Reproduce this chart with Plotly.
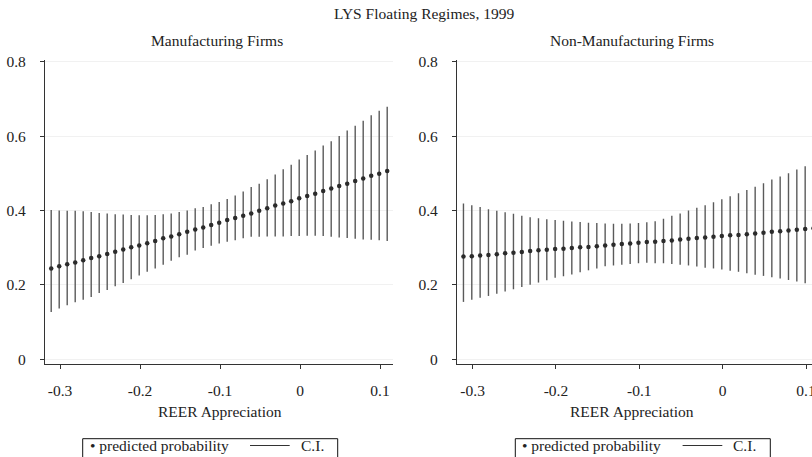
import plotly.graph_objects as go

# ---------------- data ----------------
x_vals = [-0.311, -0.301, -0.291, -0.281, -0.271, -0.261, -0.251, -0.241, -0.231, -0.221,
          -0.211, -0.201, -0.191, -0.181, -0.171, -0.161, -0.151, -0.141, -0.131, -0.121,
          -0.111, -0.101, -0.091, -0.081, -0.071, -0.061, -0.051, -0.041, -0.031, -0.021,
          -0.011, -0.001, 0.009, 0.019, 0.029, 0.039, 0.049, 0.059, 0.069, 0.079,
          0.089, 0.099, 0.109]

manuf_prob = [0.244, 0.250, 0.255, 0.260, 0.266, 0.272, 0.277, 0.283, 0.289, 0.295,
              0.301, 0.306, 0.312, 0.318, 0.325, 0.330, 0.336, 0.343, 0.349, 0.354,
              0.361, 0.367, 0.374, 0.380, 0.386, 0.392, 0.399, 0.406, 0.413, 0.419,
              0.425, 0.433, 0.439, 0.445, 0.452, 0.459, 0.466, 0.472, 0.479, 0.486,
              0.493, 0.499, 0.506]
manuf_hi = [0.401, 0.400, 0.399, 0.399, 0.398, 0.396, 0.393, 0.392, 0.390, 0.389,
            0.388, 0.387, 0.387, 0.388, 0.390, 0.392, 0.396, 0.400, 0.406, 0.409,
            0.417, 0.423, 0.431, 0.440, 0.451, 0.463, 0.472, 0.484, 0.497, 0.511,
            0.523, 0.537, 0.549, 0.561, 0.575, 0.586, 0.600, 0.615, 0.628, 0.641,
            0.656, 0.668, 0.679]
manuf_lo = [0.127, 0.136, 0.145, 0.153, 0.160, 0.167, 0.178, 0.186, 0.196, 0.205,
            0.215, 0.225, 0.235, 0.244, 0.254, 0.265, 0.274, 0.281, 0.292, 0.299,
            0.305, 0.311, 0.316, 0.320, 0.325, 0.329, 0.329, 0.330, 0.330, 0.330,
            0.331, 0.331, 0.332, 0.332, 0.331, 0.329, 0.327, 0.326, 0.324, 0.322,
            0.321, 0.320, 0.318]

nonmanuf_prob = [0.276, 0.277, 0.279, 0.280, 0.282, 0.285, 0.286, 0.288, 0.291, 0.293,
                 0.294, 0.296, 0.297, 0.299, 0.301, 0.302, 0.304, 0.306, 0.308, 0.310,
                 0.311, 0.313, 0.315, 0.316, 0.318, 0.319, 0.322, 0.324, 0.326, 0.327,
                 0.329, 0.331, 0.333, 0.334, 0.336, 0.338, 0.340, 0.343, 0.344, 0.346,
                 0.348, 0.350, 0.352]
nonmanuf_hi = [0.419, 0.414, 0.409, 0.403, 0.399, 0.395, 0.391, 0.386, 0.382, 0.379,
               0.376, 0.374, 0.372, 0.370, 0.369, 0.367, 0.366, 0.365, 0.364, 0.364,
               0.365, 0.366, 0.368, 0.371, 0.378, 0.386, 0.392, 0.400, 0.407, 0.414,
               0.422, 0.430, 0.438, 0.446, 0.455, 0.464, 0.473, 0.483, 0.491, 0.500,
               0.510, 0.519, 0.528]
nonmanuf_lo = [0.154, 0.160, 0.165, 0.170, 0.176, 0.182, 0.188, 0.194, 0.200, 0.206,
               0.212, 0.219, 0.223, 0.228, 0.234, 0.239, 0.244, 0.250, 0.252, 0.254,
               0.256, 0.258, 0.259, 0.258, 0.258, 0.256, 0.254, 0.252, 0.249, 0.246,
               0.244, 0.241, 0.238, 0.235, 0.231, 0.227, 0.224, 0.220, 0.217, 0.213,
               0.209, 0.204, 0.200]

x_tickvals = [-0.3, -0.2, -0.1, 0, 0.1]
x_ticktext = ["-0.3", "-0.2", "-0.1", "0", "0.1"]
y_tickvals = [0, 0.2, 0.4, 0.6, 0.8]
y_ticktext = ["0", "0.2", "0.4", "0.6", "0.8"]

main_title = "LYS Floating Regimes, 1999"
panel_titles = ["Manufacturing Firms", "Non-Manufacturing Firms"]
x_title = "REER Appreciation"
legend_labels = ["predicted probability", "C.I."]

# ---------------- layout helpers ----------------
W, H = 812, 457
FONT = "Liberation Serif, Times New Roman, serif"
FS = 15.5
TXT = "#222222"


def px(x):
    return x / W


def py(y):
    return 1 - y / H


fig = go.Figure()

panels = [
    (manuf_prob, manuf_lo, manuf_hi, "x", "y"),
    (nonmanuf_prob, nonmanuf_lo, nonmanuf_hi, "x2", "y2"),
]

for prob, lo, hi, xa, ya in panels:
    seg_x, seg_y = [], []
    for xv, l, h in zip(x_vals, lo, hi):
        seg_x += [xv, xv, None]
        seg_y += [l, h, None]
    fig.add_trace(go.Scatter(x=seg_x, y=seg_y, mode="lines",
                             line=dict(color="#5a5a5a", width=1.4),
                             xaxis=xa, yaxis=ya, showlegend=False,
                             name=legend_labels[1], hoverinfo="skip"))
    fig.add_trace(go.Scatter(x=x_vals, y=prob, mode="markers",
                             marker=dict(color="#2b2b2b", size=4.5),
                             xaxis=xa, yaxis=ya, showlegend=False,
                             name=legend_labels[0]))

axis_common = dict(showline=True, linecolor="#333333", linewidth=1.2,
                   ticks="outside", ticklen=4, tickcolor="#333333", tickwidth=1,
                   zeroline=False, ticklabeloverflow="allow",
                   tickfont=dict(family=FONT, size=FS, color=TXT))

y_range = [-0.013, 0.806]
y_dom = [py(364), py(59.5)]

fig.update_layout(
    width=W, height=H,
    margin=dict(l=0, r=0, t=0, b=0, autoexpand=False),
    paper_bgcolor="white", plot_bgcolor="white",
    showlegend=False,
    xaxis=dict(domain=[px(45), px(393)], range=[-0.31875, 0.11625],
               tickvals=x_tickvals, ticktext=x_ticktext, showgrid=False,
               anchor="y", ticklabelstandoff=8, **axis_common),
    yaxis=dict(domain=y_dom, range=y_range, tickvals=y_tickvals,
               ticktext=y_ticktext, showgrid=True, gridcolor="#f1f1f1",
               anchor="x", ticklabelstandoff=11, **axis_common),
    xaxis2=dict(domain=[px(457), 1.0], range=[-0.31875, 0.1072],
                tickvals=x_tickvals, ticktext=x_ticktext, showgrid=False,
                anchor="y2", ticklabelstandoff=8, **axis_common),
    yaxis2=dict(domain=y_dom, range=y_range, tickvals=y_tickvals,
                ticktext=y_ticktext, showgrid=True, gridcolor="#f1f1f1",
                anchor="x2", ticklabelstandoff=11, **axis_common),
)

ann_font = dict(family=FONT, size=FS, color=TXT)
annotations = [
    dict(text=main_title, x=px(424), y=py(13.5)),
    dict(text=panel_titles[0], x=px(217), y=py(41)),
    dict(text=panel_titles[1], x=px(632), y=py(41)),
    dict(text=x_title, x=px(220), y=py(411.5)),
    dict(text=x_title, x=px(632), y=py(411.5)),
]
for a in annotations:
    fig.add_annotation(xref="paper", yref="paper", showarrow=False,
                       xanchor="center", yanchor="middle", font=ann_font, **a)

# manual legends (one per panel)
shapes = []
for box_left in (82.7, 515.3):
    shapes.append(dict(type="rect", xref="paper", yref="paper",
                       x0=px(box_left), x1=px(box_left + 255), y0=py(438.7), y1=py(470),
                       line=dict(color="#111111", width=1), fillcolor="rgba(0,0,0,0)"))
    shapes.append(dict(type="line", xref="paper", yref="paper",
                       x0=px(box_left + 167.3), x1=px(box_left + 207), y0=py(445.5), y1=py(445.5),
                       line=dict(color="#333333", width=1)))
    fig.add_annotation(xref="paper", yref="paper", showarrow=False,
                       xanchor="left", yanchor="middle", font=ann_font,
                       x=px(box_left + 5), y=py(445.5),
                       text="\u2022 " + legend_labels[0])
    fig.add_annotation(xref="paper", yref="paper", showarrow=False,
                       xanchor="left", yanchor="middle", font=ann_font,
                       x=px(box_left + 216), y=py(445.5),
                       text=legend_labels[1])
fig.update_layout(shapes=shapes)

fig.write_html("out.html", config={"displayModeBar": False},
               post_script="document.body.style.margin='0';")
